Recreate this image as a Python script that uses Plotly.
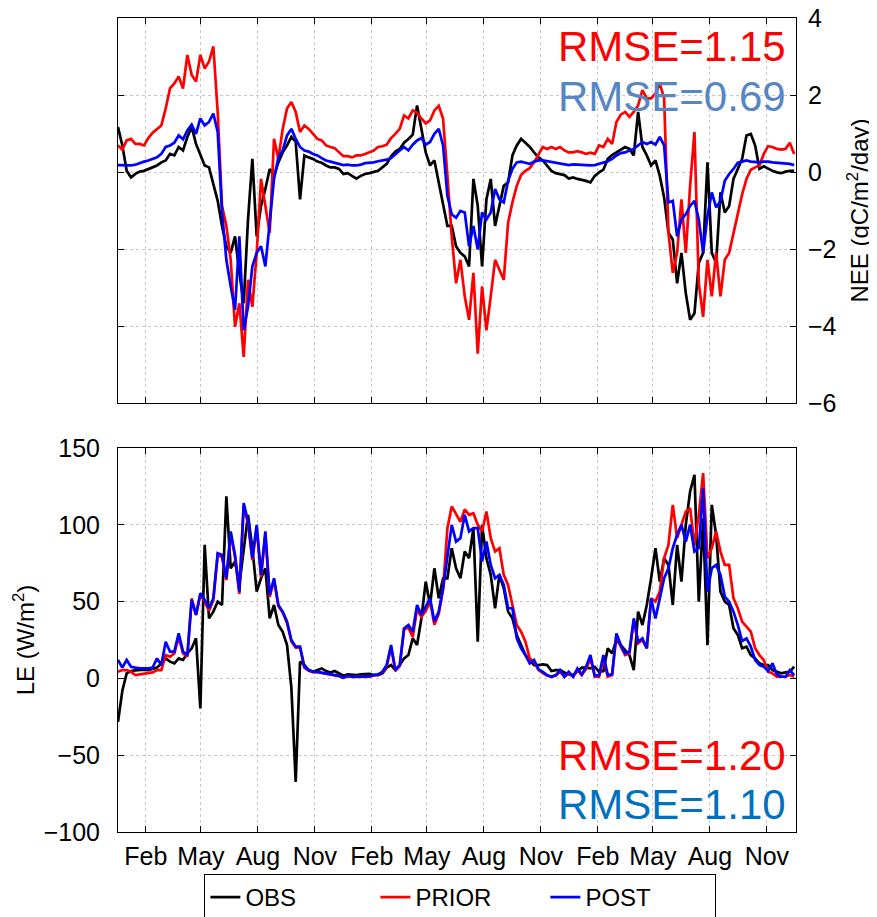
import pandas as pd
import plotly.graph_objects as go

# weekly samples starting Jan 1 of year 1 (3 years)
START = "2009-01-01"
N_WEEKS = 157

TICK_VALS = ["2009-02-15", "2009-05-15", "2009-08-15", "2009-11-15",
             "2010-02-15", "2010-05-15", "2010-08-15", "2010-11-15",
             "2011-02-15", "2011-05-15", "2011-08-15", "2011-11-15"]
TICK_LABELS = ["Feb", "May", "Aug", "Nov"] * 3

NEE_OBS = [
    1.17, 0.69, 0.03, -0.14, -0.05, 0.01, 0.03, 0.08, 0.14, 0.17, 0.25, 0.30, 0.47, 0.43, 0.65, 0.56, 0.91, 1.17,
    0.73, 0.47, 0.17, 0.12, -0.31, -0.75, -1.40, -1.93, -2.10, -1.67, -2.62, -3.41, -1.23, 0.34, -1.67, -0.88, -0.44,
    0.08, -0.10, 0.25, 0.51, 0.69, 0.91, 0.78, -0.71, 0.43, 0.38, 0.34, 0.27, 0.24, 0.17, 0.12, 0.12, 0.08, -0.05,
    -0.03, -0.10, -0.17, -0.10, -0.05, -0.03, 0.01, 0.03, 0.12, 0.21, 0.41, 0.53, 0.60, 0.76, 0.86, 0.97, 1.73, 1.12,
    0.51, 0.17, 0.30, -0.27, -0.84, -1.40, -1.40, -1.93, -2.10, -2.19, -2.45, -0.18, -0.88, -2.45, -0.71, -0.18, -1.40,
    -0.88, -0.36, -0.27, 0.43, 0.69, 0.86, 0.76, 0.65, 0.51, 0.38, 0.30, 0.17, 0.03, -0.03, -0.05, -0.08, -0.17,
    -0.14, -0.18, -0.20, -0.23, -0.27, -0.10, -0.01, 0.06, 0.34, 0.44, 0.51, 0.58, 0.65, 0.60, 0.43, 1.56, 0.65, 0.43,
    0.17, 0.30, -0.10, -0.66, -1.58, -1.75, -2.89, -2.10, -3.15, -3.84, -3.67, -2.36, -2.10, 0.25, -2.10, -2.36, -0.53,
    -1.05, -0.88, -0.18, 0.08, 0.34, 0.95, 0.99, 0.69, 0.08, 0.15, 0.08, 0.03, -0.01, -0.03, 0.01, 0.03, 0.03]

NEE_PRIOR = [
    0.69, 0.58, 0.82, 0.86, 0.73, 0.73, 0.69, 0.88, 1.02, 1.12, 1.21, 1.65, 2.17, 2.30, 2.48, 2.17, 3.04, 2.52, 2.35,
    3.04, 2.69, 2.87, 3.26, 1.56, -0.88, -1.40, -2.28, -4.02, -3.41, -4.80, -2.80, -3.50, -2.10, -0.18, -0.88, -1.58,
    0.86, 0.34, 1.12, 1.65, 1.82, 1.56, 1.04, 1.21, 1.12, 0.99, 0.86, 0.82, 0.69, 0.65, 0.62, 0.51, 0.41,
    0.41, 0.38, 0.43, 0.43, 0.47, 0.51, 0.56, 0.65, 0.67, 0.71, 0.88, 0.99, 1.12, 1.47, 1.39, 1.60, 1.54, 1.39, 1.26,
    1.34, 1.60, 1.72, 1.39, -0.10, -1.67, -2.89, -2.28, -3.23, -3.84, -2.62, -4.72, -2.97, -4.11, -3.23, -2.28, -2.54,
    -2.80, -1.32, -0.79, -0.36, -0.08, 0.03, 0.10, 0.25, 0.47, 0.65, 0.60, 0.65, 0.60, 0.65, 0.56, 0.51,
    0.51, 0.54, 0.51, 0.47, 0.50, 0.47, 0.69, 0.65, 0.86, 0.73, 1.30, 1.49, 1.56, 1.43, 1.56, 1.73, 2.13, 1.91, 1.91,
    2.04, 2.30, 1.91, -1.58, -2.62, -2.10, -0.71, -2.10, -0.36, 1.04, -2.89, -3.76, -2.28, -3.23, -2.10, -3.23, -2.28,
    -2.10, -1.58, -1.05, -0.58, -0.18, 0.06, 0.12, 0.17, 0.47, 0.67, 0.65, 0.60, 0.58, 0.60, 0.76, 0.47]

NEE_POST = [
    0.18, 0.18, 0.17, 0.17, 0.19, 0.24, 0.27, 0.30, 0.34, 0.38, 0.47, 0.65, 0.69, 0.76, 0.95, 0.85, 1.08, 1.23, 0.99,
    1.39, 1.21, 1.30, 1.52, 1.04, -1.05, -2.28, -2.97, -3.58, -1.67, -4.11, -3.50, -2.45, -2.10, -1.93, -2.45, -1.40,
    -0.18, 0.38, 0.56, 0.95, 1.12, 0.86, 0.65, 0.56, 0.53, 0.47, 0.43, 0.36, 0.30, 0.27, 0.24, 0.21, 0.18,
    0.19, 0.17, 0.17, 0.19, 0.23, 0.24, 0.25, 0.28, 0.30, 0.32, 0.36, 0.47, 0.56, 0.65, 0.56, 0.71, 0.82, 0.88, 0.71,
    0.78, 0.99, 1.12, 0.69, -0.62, -1.10, -1.19, -1.01, -1.05, -1.93, -1.40, -2.01, -1.05, -1.23, -1.05, -0.44, -0.71,
    -0.79, -0.23, 0.08, 0.25, 0.27, 0.24, 0.21, 0.27, 0.30, 0.30, 0.28, 0.25, 0.24, 0.22, 0.20, 0.18,
    0.20, 0.19, 0.18, 0.17, 0.17, 0.18, 0.21, 0.24, 0.28, 0.34, 0.43, 0.49, 0.51, 0.56, 0.60, 0.69, 0.78, 0.73, 0.78,
    0.71, 0.91, 0.69, -0.79, -0.75, -1.67, -1.23, -1.10, -0.88, -0.75, -1.23, -2.10, -1.14, -0.53, -0.92, -0.75, -0.23,
    -0.05, 0.08, 0.24, 0.27, 0.30, 0.27, 0.26, 0.25, 0.27, 0.27, 0.25, 0.24, 0.24, 0.23, 0.21, 0.18]

LE_OBS = [
    -28.3, -8.0, 3.3, 4.8, 5.2, 5.4, 5.7, 5.4, 6.1, 7.0, 9.8, 13.0, 10.9, 9.8, 13.0, 12.0, 16.3, 19.6, 26.1, -19.6,
    87.0, 39.1, 43.5, 50.0, 47.8, 118.5, 71.7, 76.1, 60.9, 82.6, 106.5, 84.8, 56.5, 65.2, 71.7, 39.1, 47.8, 34.8, 30.4,
    21.7, -6.0, -67.4, 10.9, 8.7, 5.4, 4.3, 5.4, 6.5, 4.8, 3.9, 4.8, 3.3, 1.7,
    2.6, 2.2, 2.2, 2.6, 3.0, 3.0, 2.2, 2.2, 3.3, 7.0, 8.7, 5.4, 8.7, 13.0, 15.2, 26.1, 21.7, 39.1, 63.0, 47.8, 71.7,
    52.2, 65.2, 65.2, 84.8, 71.7, 65.2, 82.6, 78.3, 97.8, 23.9, 100.0, 78.3, 67.4, 45.7, 67.4, 58.7, 43.5, 39.1, 28.3,
    21.7, 15.2, 12.0, 8.7, 8.7, 9.1, 8.7, 4.8, 5.4, 5.4, 3.9, 2.6,
    2.2, 4.3, 7.0, 7.0, 6.5, 7.6, 4.3, 4.8, 19.6, 16.3, 25.0, 21.7, 18.5, 15.2, 5.4, 43.5, 34.8, 47.8, 65.2, 84.8,
    63.0, 78.3, 73.9, 47.8, 87.0, 63.0, 100.0, 121.7, 132.6, 50.0, 104.3, 21.7, 113.0, 93.5, 56.5, 50.0, 47.8, 32.6,
    28.3, 19.6, 20.7, 15.2, 13.0, 9.8, 8.7, 8.7, 5.4, 4.3, 3.3, 3.9, 4.3, 7.6]

LE_PRIOR = [
    4.3, 5.4, 5.4, 4.3, 2.2, 2.6, 3.3, 3.3, 3.9, 5.4, 5.4, 15.2, 14.1, 16.3, 27.2, 16.3, 14.1, 52.2, 41.3, 54.3, 50.0,
    44.0, 51.0, 80.4, 79.0, 64.0, 94.0, 79.0, 55.0, 112.0, 101.0, 77.0, 98.0, 66.0, 94.0, 53.0, 64.0, 47.0, 43.0, 36.0,
    24.0, 20.0, 20.0, 7.0, 5.0, 4.0, 4.0, 3.5, 3.0, 2.5, 2.0, 1.5, 0.5,
    1.5, 1.0, 1.0, 1.0, 1.2, 1.2, 2.0, 2.4, 4.0, 8.0, 20.0, 5.0, 8.0, 32.0, 33.0, 27.0, 45.0, 40.0, 44.0, 50.0, 35.0,
    42.0, 58.0, 97.8, 112.0, 106.5, 102.0, 110.0, 106.5, 107.6, 100.0, 95.7, 108.7, 91.3, 82.6, 84.8, 67.4, 60.9, 47.8,
    34.8, 30.4, 23.9, 13.0, 10.9, 5.4, 3.3, 1.7, 1.1, 1.7, 4.3, 1.1, 3.3,
    1.1, 5.4, 2.2, 6.1, 13.0, 1.1, 1.1, 13.0, 1.1, 2.2, 28.3, 20.7, 15.2, 16.3, 38.0, 22.8, 25.0, 19.6, 52.2, 50.0,
    56.5, 78.3, 87.0, 113.0, 91.3, 100.0, 108.7, 110.9, 87.0, 106.5, 133.7, 78.3, 84.8, 95.7, 82.6, 73.9, 73.9, 52.2,
    45.7, 37.0, 33.7, 30.4, 19.6, 15.2, 12.0, 4.3, 3.3, 1.1, 1.1, 1.1, 2.2, 1.1]

LE_POST = [
    12.0, 7.0, 12.0, 7.6, 7.0, 6.5, 6.5, 6.5, 7.0, 13.0, 8.7, 23.9, 17.4, 17.4, 29.3, 17.4, 15.2, 51.1, 41.3, 55.4,
    51.1, 45.7, 52.2, 81.5, 80.4, 65.2, 95.7, 80.4, 56.5, 114.1, 102.2, 78.3, 100.0, 67.4, 95.7, 54.3, 65.2, 47.8, 43.5,
    37.0, 25.0, 20.7, 20.7, 7.6, 5.4, 4.3, 4.3, 3.7, 3.3, 2.8, 2.2, 1.7, 0.4,
    1.7, 1.1, 1.1, 1.1, 1.3, 1.3, 2.2, 2.6, 4.3, 8.7, 21.7, 5.4, 8.7, 32.6, 34.8, 30.4, 47.8, 41.3, 46.7, 52.2, 37.0,
    43.5, 58.7, 80.4, 100.0, 89.1, 91.3, 106.5, 95.7, 97.8, 97.8, 76.1, 89.1, 73.9, 65.2, 67.4, 60.9, 45.7, 45.7, 26.1,
    19.6, 15.2, 9.8, 12.0, 6.1, 4.3, 2.2, 1.1, 2.2, 5.4, 1.1, 4.3,
    1.1, 6.5, 2.6, 7.6, 15.2, 1.7, 2.2, 15.2, 2.2, 2.6, 29.3, 21.7, 16.3, 17.4, 39.1, 23.9, 26.1, 19.6, 52.2, 39.1,
    52.2, 65.2, 71.7, 84.8, 93.5, 100.0, 89.1, 100.0, 82.6, 84.8, 123.9, 56.5, 71.7, 73.9, 67.4, 53.3, 50.0, 43.5,
    34.8, 24.3, 26.1, 20.7, 12.0, 8.7, 7.6, 4.8, 9.8, 2.6, 1.1, 1.1, 5.4, 2.2]

RMSE_NEE = ["RMSE=1.15", "RMSE=0.69"]
RMSE_LE = ["RMSE=1.20", "RMSE=1.10"]

dates = pd.date_range(start=START, periods=N_WEEKS, freq="7D")

FONT = "Liberation Sans, Arial, sans-serif"
COLORS = {"OBS": "#000000", "PRIOR": "#FF0000", "POST": "#0000FF"}
LW = 2.7

fig = go.Figure()
for name, vals in [("OBS", NEE_OBS), ("PRIOR", NEE_PRIOR), ("POST", NEE_POST)]:
    fig.add_trace(go.Scatter(x=dates, y=vals, mode="lines", name=name, showlegend=False,
                             line=dict(color=COLORS[name], width=LW), xaxis="x", yaxis="y"))
for name, vals in [("OBS", LE_OBS), ("PRIOR", LE_PRIOR), ("POST", LE_POST)]:
    fig.add_trace(go.Scatter(x=dates, y=vals, mode="lines", name=name, showlegend=True,
                             line=dict(color=COLORS[name], width=LW), xaxis="x2", yaxis="y2"))

common_x = dict(type="date", range=["2009-01-01", "2012-01-01"], tickmode="array",
                tickvals=TICK_VALS, ticktext=TICK_LABELS, ticks="inside", ticklen=6,
                tickcolor="#000", showline=True, linecolor="#000", linewidth=1, mirror="ticks",
                showgrid=True, gridcolor="#c8c8c8", griddash="dot", gridwidth=1, zeroline=False,
                automargin=False, ticklabeloverflow="allow",
                tickfont=dict(family=FONT, size=25, color="#000"))
common_y = dict(ticks="inside", ticklen=6, tickcolor="#000", showline=True, linecolor="#000",
                linewidth=1, mirror="ticks", showgrid=True, gridcolor="#c8c8c8", griddash="dot",
                gridwidth=1, zeroline=False, automargin=False, ticklabeloverflow="allow",
                tickfont=dict(family=FONT, size=25, color="#000"))

# page body has an 8px default margin; figure sized/offset to compensate
fig.update_layout(
    width=869, height=909,
    margin=dict(l=110, r=81, t=10, b=85, autoexpand=False),
    paper_bgcolor="white", plot_bgcolor="white",
    font=dict(family=FONT, size=24, color="#000"),
    xaxis=dict(common_x, anchor="y", domain=[0, 1], showticklabels=False),
    yaxis=dict(common_y, anchor="x", domain=[0.527, 1], range=[-6, 4], dtick=2, side="right",
               ticklabelstandoff=6,
               title=dict(text="NEE (gC/m<sup>2</sup>/day)", font=dict(family=FONT, size=24), standoff=15)),
    xaxis2=dict(common_x, anchor="y2", domain=[0, 1], ticklabelstandoff=2),
    yaxis2=dict(common_y, anchor="x2", domain=[0, 0.4717], range=[-100, 150], dtick=50,
                ticklabelstandoff=12,
                title=dict(text="LE (W/m<sup>2</sup>)", font=dict(family=FONT, size=24), standoff=2)),
    legend=dict(orientation="h", x=0.505, xanchor="center", y=-0.0516, yanchor="top",
                bordercolor="#000", borderwidth=1, bgcolor="white",
                font=dict(family=FONT, size=24), entrywidth=125, entrywidthmode="pixels"),
    showlegend=True,
)

annots = [
    (RMSE_NEE[0], "#FF0000", 0.9644), (RMSE_NEE[1], "#5686C4", 0.903),
    (RMSE_LE[0], "#FF0000", 0.0934), (RMSE_LE[1], "#0070C0", 0.0332),
]
for text, color, y in annots:
    fig.add_annotation(text=text, x=0.988, xref="paper", xanchor="right", y=y, yref="paper",
                       yanchor="middle", showarrow=False,
                       font=dict(family=FONT, size=42, color=color))

fig.write_html("out.html")
